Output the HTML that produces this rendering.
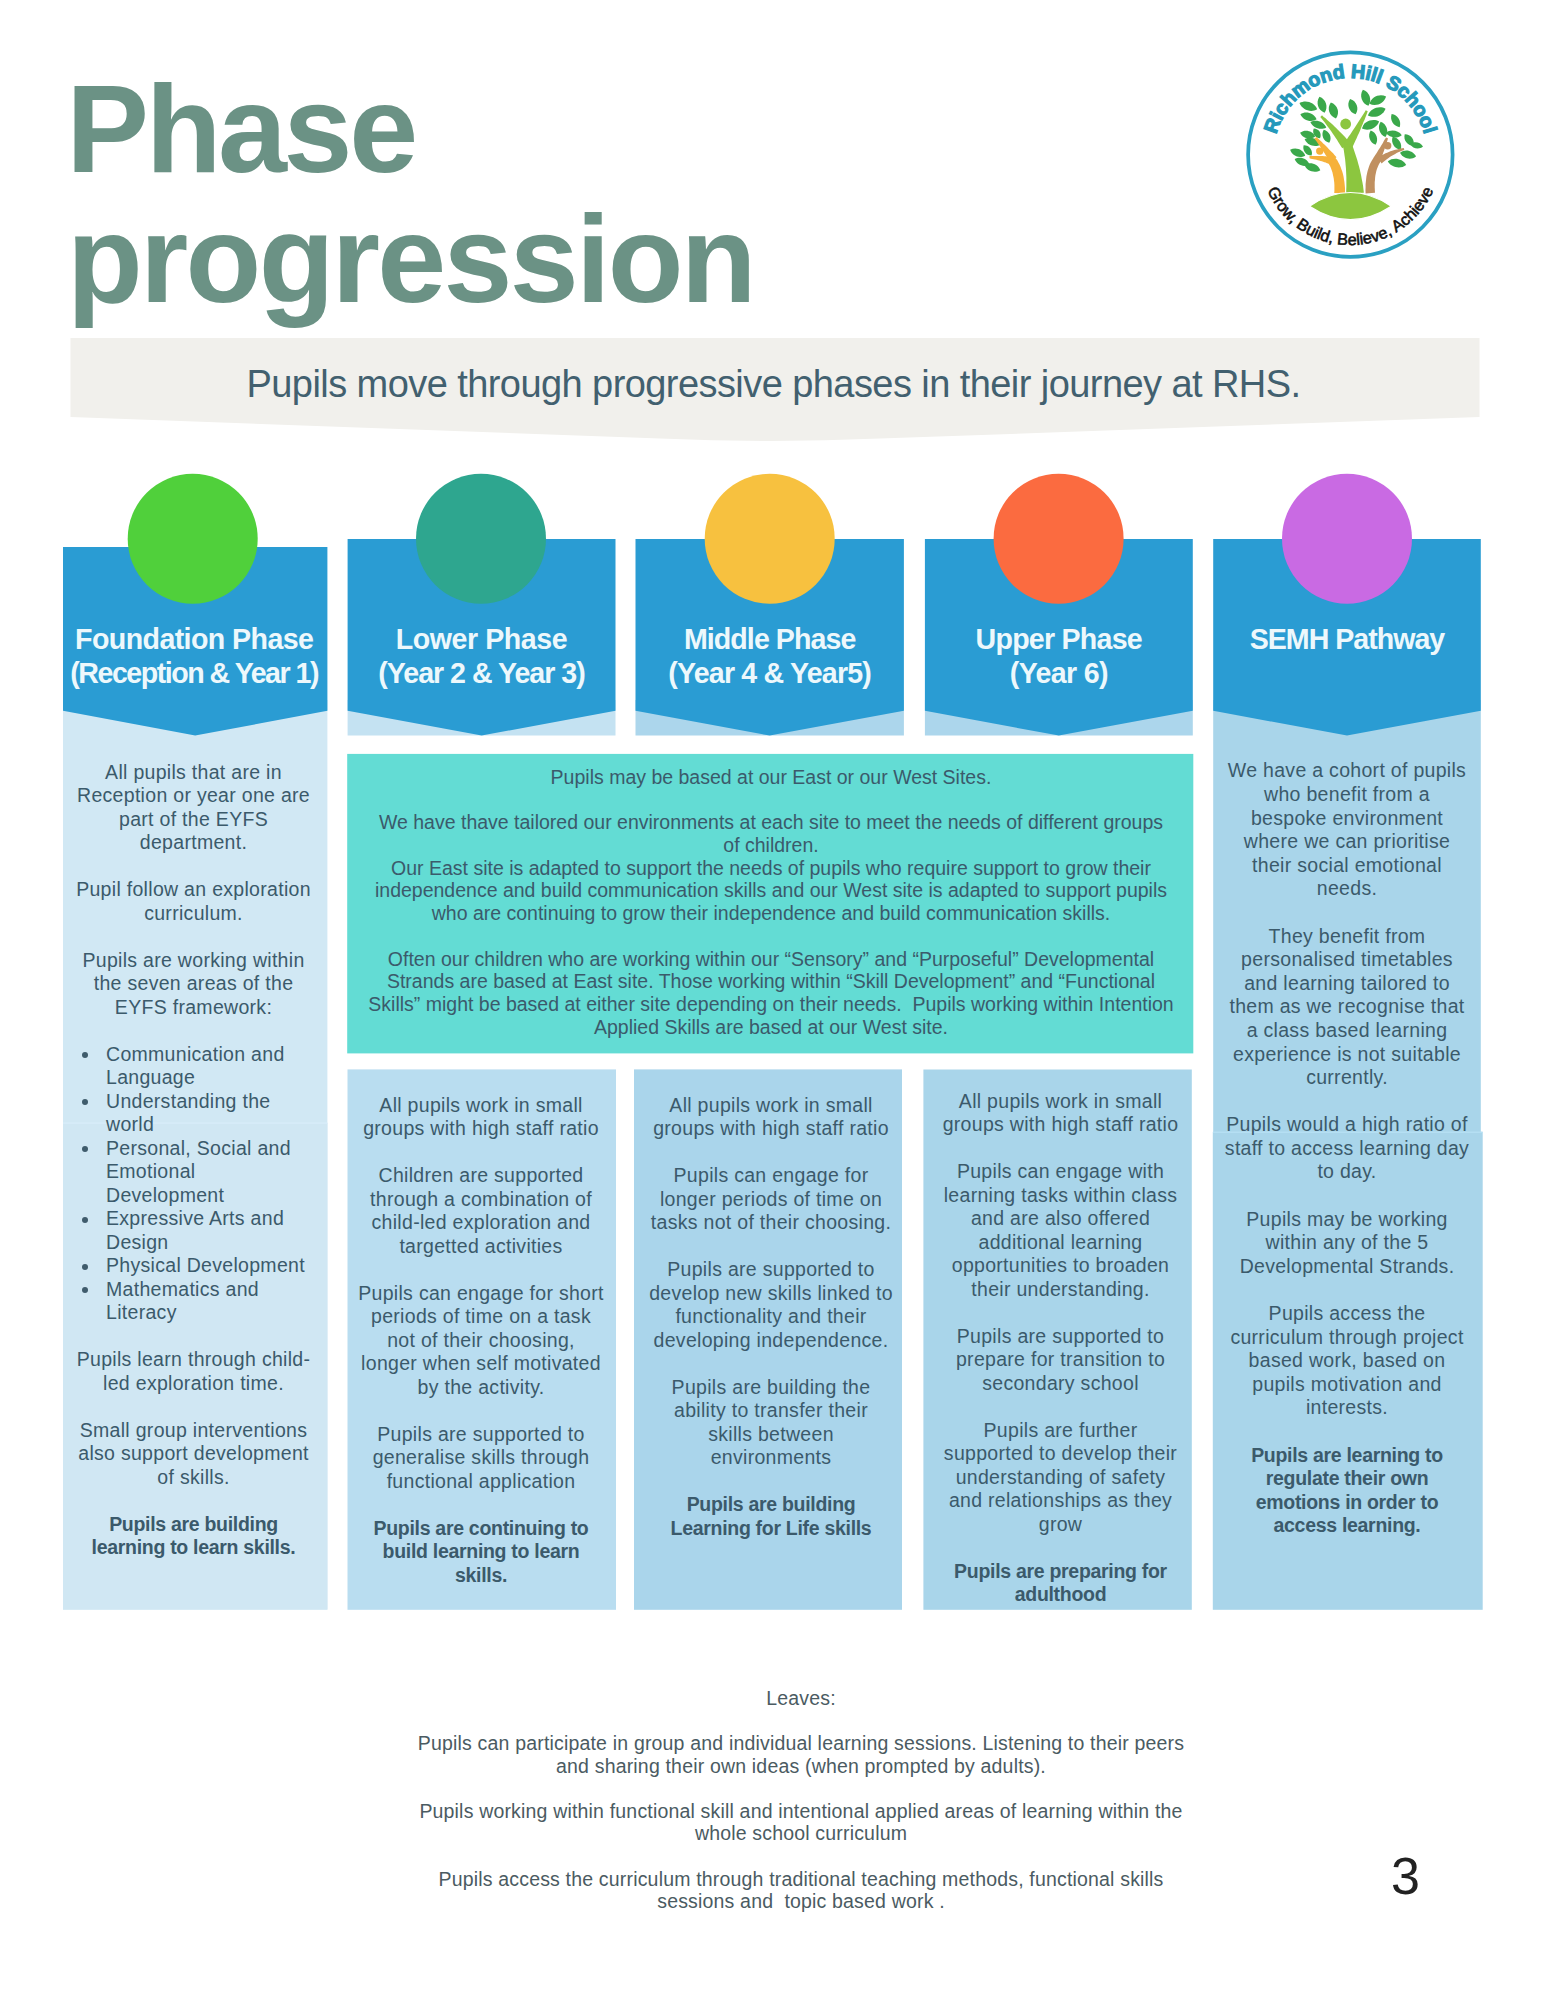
<!DOCTYPE html>
<html><head><meta charset="utf-8"><style>
html,body{margin:0;padding:0;background:#fff;}
body{width:1545px;height:2000px;position:relative;overflow:hidden;font-family:"Liberation Sans",sans-serif;}
.abs{position:absolute;}
.blk{position:absolute;text-align:center;white-space:nowrap;}
.ln{white-space:nowrap;}
.b{font-weight:bold;letter-spacing:-0.3px;}
.title{position:absolute;font-family:"Liberation Sans",sans-serif;font-weight:bold;font-size:124px;line-height:130px;color:#6b9285;letter-spacing:-4.3px;white-space:nowrap;}
.dot{width:6px;height:6px;border-radius:50%;background:#3f5c6c;}
</style></head><body>
<div class="title" style="left:66.3px;top:63.6px;letter-spacing:-3.37px">Phase</div>
<div class="title" style="left:67px;top:194.0px;letter-spacing:-2.7px">progression</div>
<svg class="abs" style="left:0;top:0" width="1545" height="460"><path d="M70.5,338 L1479.5,338 L1479.5,417 L880,438.6 Q771,443.5 660,438.6 L70.5,417 Z" fill="#f1f0ec"/></svg>
<div class="blk" style="left:123.5px;top:360.8px;width:1300.0px;font-size:38.00px;line-height:46.00px;color:#42606f;letter-spacing:-0.57px;font-weight:normal;"><div class="ln">Pupils move through progressive phases in their journey at RHS.</div></div>
<svg class="abs" style="left:0;top:0" width="1545" height="1700"><rect x="63" y="700" width="264.4" height="909.6" fill="#d1e8f4"/><rect x="63" y="1123" width="264.4" height="486.6" fill="#d0e7f3"/><rect x="63" y="1122.5" width="264.4" height="1.2" fill="#d9edf9"/><rect x="347.6" y="700" width="267.9" height="35.5" fill="#c4e2f2"/><rect x="635.5" y="700" width="268.4" height="35.5" fill="#acd6ec"/><rect x="924.9" y="700" width="267.9" height="35.5" fill="#acd6ec"/><rect x="1213.2" y="700" width="267.6" height="432" fill="#a9d5ea"/><rect x="1212.8" y="1131.8" width="269.9" height="478" fill="#a9d5ea"/><rect x="1213" y="1131.6" width="269.5" height="1.2" fill="#b8e2f6"/><rect x="347.2" y="753.9" width="846.1" height="299.5" fill="#63dcd4"/><rect x="347.5" y="1069.4" width="268.5" height="540.4" fill="#b9ddf0"/><rect x="634" y="1069.4" width="268" height="540.4" fill="#aad5eb"/><rect x="923.4" y="1069.5" width="268.4" height="540.3" fill="#a9d5ea"/><polygon points="63.0,547.0 327.4,547.0 327.4,710.8 195.2,735.6 63.0,710.8" fill="#2a9cd3"/><circle cx="192.7" cy="538.7" r="65" fill="#50d03b"/><polygon points="347.6,539.0 615.5,539.0 615.5,710.8 481.6,735.6 347.6,710.8" fill="#2a9cd3"/><circle cx="481.0" cy="538.7" r="65" fill="#2ea68f"/><polygon points="635.5,539.0 903.9,539.0 903.9,710.8 769.7,735.6 635.5,710.8" fill="#2a9cd3"/><circle cx="769.7" cy="538.7" r="65" fill="#f7c13f"/><polygon points="924.9,539.0 1192.8,539.0 1192.8,710.8 1058.8,735.6 924.9,710.8" fill="#2a9cd3"/><circle cx="1058.6" cy="538.7" r="65" fill="#fb6b40"/><polygon points="1213.2,539.0 1480.8,539.0 1480.8,710.8 1347.0,735.6 1213.2,710.8" fill="#2a9cd3"/><circle cx="1347.0" cy="538.7" r="65" fill="#c96ae3"/></svg>
<div class="blk" style="left:44.2px;top:621.7px;width:300.0px;font-size:28.60px;line-height:34.00px;color:#edf8fc;letter-spacing:0.00px;font-weight:bold;"><div class="ln" style="letter-spacing:-0.60px">Foundation Phase</div><div class="ln" style="letter-spacing:-1.49px">(Reception &amp; Year 1)</div></div>
<div class="blk" style="left:331.5px;top:621.7px;width:300.0px;font-size:28.60px;line-height:34.00px;color:#edf8fc;letter-spacing:0.00px;font-weight:bold;"><div class="ln" style="letter-spacing:-0.46px">Lower Phase</div><div class="ln" style="letter-spacing:-1.01px">(Year 2 &amp; Year 3)</div></div>
<div class="blk" style="left:619.7px;top:621.7px;width:300.0px;font-size:28.60px;line-height:34.00px;color:#edf8fc;letter-spacing:0.00px;font-weight:bold;"><div class="ln" style="letter-spacing:-0.93px">Middle Phase</div><div class="ln" style="letter-spacing:-0.81px">(Year 4 &amp; Year5)</div></div>
<div class="blk" style="left:908.8px;top:621.7px;width:300.0px;font-size:28.60px;line-height:34.00px;color:#edf8fc;letter-spacing:0.00px;font-weight:bold;"><div class="ln" style="letter-spacing:-0.76px">Upper Phase</div><div class="ln" style="letter-spacing:-0.67px">(Year 6)</div></div>
<div class="blk" style="left:1197.0px;top:621.7px;width:300.0px;font-size:28.60px;line-height:34.00px;color:#edf8fc;letter-spacing:0.00px;font-weight:bold;"><div class="ln" style="letter-spacing:-1.00px">SEMH Pathway</div></div>
<div class="blk" style="left:61.5px;top:760.5px;width:264.0px;font-size:19.50px;line-height:23.50px;color:#3b5a6b;letter-spacing:0.30px;font-weight:normal;"><div class="ln">All pupils that are in</div><div class="ln">Reception or year one are</div><div class="ln">part of the EYFS</div><div class="ln">department.</div><div class="ln">&nbsp;</div><div class="ln">Pupil follow an exploration</div><div class="ln">curriculum.</div><div class="ln">&nbsp;</div><div class="ln">Pupils are working within</div><div class="ln">the seven areas of the</div><div class="ln">EYFS framework:</div><div class="ln">&nbsp;</div></div>
<div class="ln abs" style="left:106px;top:1042.5px;font-size:19.5px;line-height:23.5px;color:#3b5a6b;white-space:nowrap;letter-spacing:0.3px">Communication and</div><div class="abs dot" style="left:82px;top:1052.0px"></div><div class="ln abs" style="left:106px;top:1066.0px;font-size:19.5px;line-height:23.5px;color:#3b5a6b;white-space:nowrap;letter-spacing:0.3px">Language</div><div class="ln abs" style="left:106px;top:1089.5px;font-size:19.5px;line-height:23.5px;color:#3b5a6b;white-space:nowrap;letter-spacing:0.3px">Understanding the</div><div class="abs dot" style="left:82px;top:1099.0px"></div><div class="ln abs" style="left:106px;top:1113.0px;font-size:19.5px;line-height:23.5px;color:#3b5a6b;white-space:nowrap;letter-spacing:0.3px">world</div><div class="ln abs" style="left:106px;top:1136.5px;font-size:19.5px;line-height:23.5px;color:#3b5a6b;white-space:nowrap;letter-spacing:0.3px">Personal, Social and</div><div class="abs dot" style="left:82px;top:1146.0px"></div><div class="ln abs" style="left:106px;top:1160.0px;font-size:19.5px;line-height:23.5px;color:#3b5a6b;white-space:nowrap;letter-spacing:0.3px">Emotional</div><div class="ln abs" style="left:106px;top:1183.5px;font-size:19.5px;line-height:23.5px;color:#3b5a6b;white-space:nowrap;letter-spacing:0.3px">Development</div><div class="ln abs" style="left:106px;top:1207.0px;font-size:19.5px;line-height:23.5px;color:#3b5a6b;white-space:nowrap;letter-spacing:0.3px">Expressive Arts and</div><div class="abs dot" style="left:82px;top:1216.5px"></div><div class="ln abs" style="left:106px;top:1230.5px;font-size:19.5px;line-height:23.5px;color:#3b5a6b;white-space:nowrap;letter-spacing:0.3px">Design</div><div class="ln abs" style="left:106px;top:1254.0px;font-size:19.5px;line-height:23.5px;color:#3b5a6b;white-space:nowrap;letter-spacing:0.3px">Physical Development</div><div class="abs dot" style="left:82px;top:1263.5px"></div><div class="ln abs" style="left:106px;top:1277.5px;font-size:19.5px;line-height:23.5px;color:#3b5a6b;white-space:nowrap;letter-spacing:0.3px">Mathematics and</div><div class="abs dot" style="left:82px;top:1287.0px"></div><div class="ln abs" style="left:106px;top:1301.0px;font-size:19.5px;line-height:23.5px;color:#3b5a6b;white-space:nowrap;letter-spacing:0.3px">Literacy</div>
<div class="blk" style="left:61.5px;top:1348.0px;width:264.0px;font-size:19.50px;line-height:23.50px;color:#3b5a6b;letter-spacing:0.30px;font-weight:normal;"><div class="ln">Pupils learn through child-</div><div class="ln">led exploration time.</div><div class="ln">&nbsp;</div><div class="ln">Small group interventions</div><div class="ln">also support development</div><div class="ln">of skills.</div><div class="ln">&nbsp;</div><div class="ln b">Pupils are building</div><div class="ln b">learning to learn skills.</div></div>
<div class="blk" style="left:348.0px;top:765.8px;width:846.0px;font-size:19.50px;line-height:22.72px;color:#3b5a6b;letter-spacing:0.00px;font-weight:normal;"><div class="ln">Pupils may be based at our East or our West Sites.</div><div class="ln">&nbsp;</div><div class="ln">We have thave tailored our environments at each site to meet the needs of different groups</div><div class="ln">of children.</div><div class="ln">Our East site is adapted to support the needs of pupils who require support to grow their</div><div class="ln">independence and build communication skills and our West site is adapted to support pupils</div><div class="ln">who are continuing to grow their independence and build communication skills.</div><div class="ln">&nbsp;</div><div class="ln">Often our children who are working within our “Sensory” and “Purposeful” Developmental</div><div class="ln">Strands are based at East site. Those working within “Skill Development” and “Functional</div><div class="ln">Skills” might be based at either site depending on their needs.&nbsp; Pupils working within Intention</div><div class="ln">Applied Skills are based at our West site.</div></div>
<div class="blk" style="left:347.0px;top:1093.5px;width:268.0px;font-size:19.50px;line-height:23.50px;color:#3b5a6b;letter-spacing:0.30px;font-weight:normal;"><div class="ln">All pupils work in small</div><div class="ln">groups with high staff ratio</div><div class="ln">&nbsp;</div><div class="ln">Children are supported</div><div class="ln">through a combination of</div><div class="ln">child-led exploration and</div><div class="ln">targetted activities</div><div class="ln">&nbsp;</div><div class="ln">Pupils can engage for short</div><div class="ln">periods of time on a task</div><div class="ln">not of their choosing,</div><div class="ln">longer when self motivated</div><div class="ln">by the activity.</div><div class="ln">&nbsp;</div><div class="ln">Pupils are supported to</div><div class="ln">generalise skills through</div><div class="ln">functional application</div><div class="ln">&nbsp;</div><div class="ln b">Pupils are continuing to</div><div class="ln b">build learning to learn</div><div class="ln b">skills.</div></div>
<div class="blk" style="left:637.0px;top:1093.5px;width:268.0px;font-size:19.50px;line-height:23.50px;color:#3b5a6b;letter-spacing:0.30px;font-weight:normal;"><div class="ln">All pupils work in small</div><div class="ln">groups with high staff ratio</div><div class="ln">&nbsp;</div><div class="ln">Pupils can engage for</div><div class="ln">longer periods of time on</div><div class="ln">tasks not of their choosing.</div><div class="ln">&nbsp;</div><div class="ln">Pupils are supported to</div><div class="ln">develop new skills linked to</div><div class="ln">functionality and their</div><div class="ln">developing independence.</div><div class="ln">&nbsp;</div><div class="ln">Pupils are building the</div><div class="ln">ability to transfer their</div><div class="ln">skills between</div><div class="ln">environments</div><div class="ln">&nbsp;</div><div class="ln b">Pupils are building</div><div class="ln b">Learning for Life skills</div></div>
<div class="blk" style="left:926.5px;top:1089.5px;width:268.0px;font-size:19.50px;line-height:23.50px;color:#3b5a6b;letter-spacing:0.30px;font-weight:normal;"><div class="ln">All pupils work in small</div><div class="ln">groups with high staff ratio</div><div class="ln">&nbsp;</div><div class="ln">Pupils can engage with</div><div class="ln">learning tasks within class</div><div class="ln">and are also offered</div><div class="ln">additional learning</div><div class="ln">opportunities to broaden</div><div class="ln">their understanding.</div><div class="ln">&nbsp;</div><div class="ln">Pupils are supported to</div><div class="ln">prepare for transition to</div><div class="ln">secondary school</div><div class="ln">&nbsp;</div><div class="ln">Pupils are further</div><div class="ln">supported to develop their</div><div class="ln">understanding of safety</div><div class="ln">and relationships as they</div><div class="ln">grow</div><div class="ln">&nbsp;</div><div class="ln b">Pupils are preparing for</div><div class="ln b">adulthood</div></div>
<div class="blk" style="left:1213.0px;top:759.4px;width:268.0px;font-size:19.50px;line-height:23.60px;color:#3b5a6b;letter-spacing:0.30px;font-weight:normal;"><div class="ln">We have a cohort of pupils</div><div class="ln">who benefit from a</div><div class="ln">bespoke environment</div><div class="ln">where we can prioritise</div><div class="ln">their social emotional</div><div class="ln">needs.</div><div class="ln">&nbsp;</div><div class="ln">They benefit from</div><div class="ln">personalised timetables</div><div class="ln">and learning tailored to</div><div class="ln">them as we recognise that</div><div class="ln">a class based learning</div><div class="ln">experience is not suitable</div><div class="ln">currently.</div><div class="ln">&nbsp;</div><div class="ln">Pupils would a high ratio of</div><div class="ln">staff to access learning day</div><div class="ln">to day.</div><div class="ln">&nbsp;</div><div class="ln">Pupils may be working</div><div class="ln">within any of the 5</div><div class="ln">Developmental Strands.</div><div class="ln">&nbsp;</div><div class="ln">Pupils access the</div><div class="ln">curriculum through project</div><div class="ln">based work, based on</div><div class="ln">pupils motivation and</div><div class="ln">interests.</div><div class="ln">&nbsp;</div><div class="ln b">Pupils are learning to</div><div class="ln b">regulate their own</div><div class="ln b">emotions in order to</div><div class="ln b">access learning.</div></div>
<div class="blk" style="left:351.0px;top:1686.9px;width:900.0px;font-size:19.50px;line-height:22.60px;color:#4b5b62;letter-spacing:0.18px;font-weight:normal;"><div class="ln">Leaves:</div><div class="ln">&nbsp;</div><div class="ln">Pupils can participate in group and individual learning sessions. Listening to their peers</div><div class="ln">and sharing their own ideas (when prompted by adults).</div><div class="ln">&nbsp;</div><div class="ln">Pupils working within functional skill and intentional applied areas of learning within the</div><div class="ln">whole school curriculum</div><div class="ln">&nbsp;</div><div class="ln">Pupils access the curriculum through traditional teaching methods, functional skills</div><div class="ln">sessions and&nbsp; topic based work .</div></div>
<div class="abs" style="left:1391px;top:1849.7px;font-size:52px;line-height:52px;color:#222">3</div>
<svg class="abs" style="left:1240px;top:45px" width="220" height="220" viewBox="0 0 1545 1545"><defs><path id="arcT" d="M239.0,723.1 A538.0,538.0 0 0 1 1311.0,723.1"/><path id="arcB" d="M149.6,880.3 A635.0,635.0 0 0 0 1400.4,880.3"/></defs><circle cx="775" cy="770" r="718" fill="#fff" stroke="#2aa0c2" stroke-width="26"/><path d="M418,408 C436,456 497,478 542,452 C524,404 463,382 418,408 Z" fill="#3aa84a"/><path d="M558,364 C530,404 548,460 594,476 C622,436 604,380 558,364 Z" fill="#3aa84a"/><path d="M638,404 C608,444 626,500 674,516 C704,476 686,420 638,404 Z" fill="#3aa84a"/><path d="M424,486 C442,529 499,547 538,522 C520,479 463,461 424,486 Z" fill="#3aa84a"/><path d="M494,541 C511,583 567,602 606,579 C589,537 533,518 494,541 Z" fill="#3aa84a"/><path d="M422,617 C440,657 493,670 528,643 C510,603 457,590 422,617 Z" fill="#3aa84a"/><path d="M454,662 C472,704 528,722 566,698 C548,656 492,638 454,662 Z" fill="#3aa84a"/><path d="M588,595 C566,632 586,677 627,687 C649,650 629,605 588,595 Z" fill="#3aa84a"/><path d="M518,586 C504,620 526,653 562,654 C576,620 554,587 518,586 Z" fill="#3aa84a"/><path d="M352,736 C366,780 418,800 458,777 C444,733 392,713 352,736 Z" fill="#3aa84a"/><path d="M384,801 C398,843 450,862 488,839 C474,797 422,778 384,801 Z" fill="#3aa84a"/><path d="M452,841 C468,885 524,904 564,879 C548,835 492,816 452,841 Z" fill="#3aa84a"/><path d="M447,704 C436,741 464,777 503,776 C514,739 486,703 447,704 Z" fill="#3aa84a"/><path d="M773,379 C746,419 766,473 812,486 C839,446 819,392 773,379 Z" fill="#3aa84a"/><path d="M863,314 C836,355 855,411 902,426 C929,385 910,329 863,314 Z" fill="#3aa84a"/><path d="M909,413 C954,436 1012,411 1026,362 C981,339 923,364 909,413 Z" fill="#3aa84a"/><path d="M898,495 C943,519 1005,496 1022,447 C977,423 915,446 898,495 Z" fill="#3aa84a"/><path d="M853,585 C898,609 960,586 977,537 C932,513 870,536 853,585 Z" fill="#3aa84a"/><path d="M988,539 C962,577 979,630 1022,646 C1048,608 1031,555 988,539 Z" fill="#3aa84a"/><path d="M1065,485 C1050,526 1078,572 1121,577 C1136,536 1108,490 1065,485 Z" fill="#3aa84a"/><path d="M918,600 C894,636 911,686 952,700 C976,664 959,614 918,600 Z" fill="#3aa84a"/><path d="M1024,617 C1048,652 1104,660 1136,633 C1112,598 1056,590 1024,617 Z" fill="#3aa84a"/><path d="M1072,645 C1057,686 1085,732 1128,737 C1143,696 1115,650 1072,645 Z" fill="#3aa84a"/><path d="M1157,626 C1145,667 1176,707 1218,706 C1230,665 1199,625 1157,626 Z" fill="#3aa84a"/><path d="M1195,697 C1213,729 1258,737 1285,713 C1267,681 1222,673 1195,697 Z" fill="#3aa84a"/><path d="M1124,757 C1144,798 1200,812 1236,783 C1216,742 1160,728 1124,757 Z" fill="#3aa84a"/><path d="M1038,817 C1062,862 1127,875 1167,843 C1143,798 1078,785 1038,817 Z" fill="#3aa84a"/><path d="M738,1041 L738,1020 L737,1000 L735,980 L733,961 L730,942 L727,923 L723,906 L718,888 L712,872 L706,855 L699,840 L691,825 L683,810 L673,797 L664,783 L653,771 L607,809 L615,820 L622,831 L628,842 L634,854 L639,866 L644,879 L649,893 L652,907 L655,921 L658,936 L660,952 L662,968 L663,985 L663,1002 L663,1020 L662,1039 Z" fill="#f6b13a"/><path d="M678,788 L670,779 L662,770 L654,761 L646,753 L637,744 L628,735 L620,726 L611,717 L602,708 L593,699 L584,691 L575,682 L565,673 L556,664 L546,655 L537,646 L523,658 L531,669 L539,679 L546,690 L553,700 L561,710 L568,721 L575,731 L582,741 L588,752 L595,762 L601,772 L608,782 L614,792 L620,802 L626,812 L632,822 Z" fill="#f6b13a"/><path d="M653,789 L643,787 L633,786 L622,784 L612,783 L602,782 L592,781 L581,780 L571,780 L561,779 L551,779 L540,779 L530,779 L520,779 L509,779 L499,779 L488,780 L488,796 L498,798 L508,800 L517,802 L527,804 L537,806 L546,809 L556,811 L565,814 L575,817 L584,820 L593,823 L602,826 L611,830 L620,833 L628,837 L637,841 Z" fill="#f6b13a"/><circle cx="560" cy="745" r="26" fill="#f6b13a"/><path d="M948,1038 L947,1018 L946,999 L946,980 L946,963 L948,946 L949,930 L951,914 L954,900 L957,886 L961,872 L966,860 L971,848 L976,837 L982,827 L988,817 L995,808 L955,772 L945,784 L936,796 L927,809 L919,823 L912,838 L906,853 L901,869 L896,885 L892,903 L888,921 L886,939 L884,958 L882,978 L882,999 L881,1020 L882,1042 Z" fill="#c09060"/><path d="M983,817 L987,806 L991,796 L996,785 L999,775 L1003,765 L1007,754 L1011,744 L1014,734 L1018,724 L1021,714 L1025,704 L1028,694 L1031,684 L1034,674 L1037,665 L1039,655 L1025,649 L1020,658 L1015,666 L1010,675 L1005,684 L1000,693 L994,702 L989,711 L984,720 L978,729 L972,738 L967,747 L961,756 L955,765 L949,774 L943,784 L937,793 Z" fill="#c09060"/><path d="M995,832 L1004,824 L1013,816 L1022,809 L1031,802 L1041,795 L1050,788 L1060,782 L1070,776 L1080,770 L1090,765 L1100,759 L1111,754 L1121,749 L1132,745 L1143,741 L1154,737 L1150,723 L1138,725 L1127,727 L1115,730 L1103,733 L1091,736 L1079,739 L1068,743 L1056,747 L1045,752 L1033,756 L1022,761 L1010,767 L999,773 L987,779 L976,785 L965,792 Z" fill="#c09060"/><circle cx="1037" cy="708" r="26" fill="#c09060"/><path d="M870,1037 L867,1013 L864,989 L860,965 L855,941 L851,918 L846,895 L841,872 L835,850 L829,828 L823,806 L816,784 L809,763 L802,742 L795,721 L787,701 L779,681 L721,699 L725,719 L729,739 L732,760 L735,781 L738,801 L740,822 L742,844 L744,865 L745,887 L746,908 L747,930 L747,952 L747,975 L747,997 L746,1020 L746,1043 Z" fill="#8cc63f" stroke="#fff" stroke-width="14" stroke-linejoin="round"/><path d="M772,685 L760,671 L748,658 L736,645 L724,632 L712,619 L699,607 L687,595 L675,583 L662,571 L650,559 L638,548 L625,537 L613,526 L601,515 L588,505 L576,494 L564,506 L574,518 L584,531 L594,543 L604,556 L614,570 L624,583 L633,596 L643,610 L652,624 L662,638 L671,652 L681,666 L690,681 L699,695 L708,710 L718,725 Z" fill="#8cc63f" stroke="#fff" stroke-width="14" stroke-linejoin="round"/><path d="M788,721 L796,704 L804,687 L811,670 L819,654 L826,637 L834,621 L841,605 L848,589 L854,573 L861,557 L867,541 L874,526 L880,511 L886,495 L892,480 L897,466 L883,458 L875,472 L866,486 L858,499 L849,513 L840,527 L831,541 L822,555 L812,570 L803,584 L793,599 L783,614 L774,628 L763,643 L753,658 L743,674 L732,689 Z" fill="#8cc63f" stroke="#fff" stroke-width="14" stroke-linejoin="round"/><path d="M870,1037 L867,1013 L864,989 L860,965 L855,941 L851,918 L846,895 L841,872 L835,850 L829,828 L823,806 L816,784 L809,763 L802,742 L795,721 L787,701 L779,681 L721,699 L725,719 L729,739 L732,760 L735,781 L738,801 L740,822 L742,844 L744,865 L745,887 L746,908 L747,930 L747,952 L747,975 L747,997 L746,1020 L746,1043 Z" fill="#8cc63f"/><path d="M772,685 L760,671 L748,658 L736,645 L724,632 L712,619 L699,607 L687,595 L675,583 L662,571 L650,559 L638,548 L625,537 L613,526 L601,515 L588,505 L576,494 L564,506 L574,518 L584,531 L594,543 L604,556 L614,570 L624,583 L633,596 L643,610 L652,624 L662,638 L671,652 L681,666 L690,681 L699,695 L708,710 L718,725 Z" fill="#8cc63f"/><path d="M788,721 L796,704 L804,687 L811,670 L819,654 L826,637 L834,621 L841,605 L848,589 L854,573 L861,557 L867,541 L874,526 L880,511 L886,495 L892,480 L897,466 L883,458 L875,472 L866,486 L858,499 L849,513 L840,527 L831,541 L822,555 L812,570 L803,584 L793,599 L783,614 L774,628 L763,643 L753,658 L743,674 L732,689 Z" fill="#8cc63f"/><circle cx="742" cy="555" r="38" fill="#8cc63f"/><path d="M488,1132 Q775,940 1062,1132 Q775,1320 488,1132 Z" fill="#8cc63f" stroke="#fff" stroke-width="8"/><text font-family="Liberation Sans" font-weight="bold" font-size="138" fill="#2599bb" stroke="#2599bb" stroke-width="8" letter-spacing="-1"><textPath href="#arcT" startOffset="50%" text-anchor="middle">Richmond Hill School</textPath></text><text font-family="Liberation Sans" font-size="114" fill="#111" stroke="#111" stroke-width="4"><textPath href="#arcB" startOffset="50%" text-anchor="middle">Grow, Build, Believe, Achieve</textPath></text></svg>
</body></html>
